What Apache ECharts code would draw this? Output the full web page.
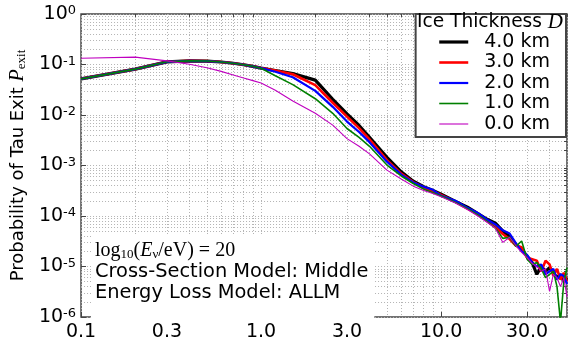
<!DOCTYPE html>
<html>
<head>
<meta charset="utf-8">
<script src="https://cdn.jsdelivr.net/npm/echarts@6/dist/echarts.min.js"></script>
<style>
html, body { margin: 0; padding: 0; background: #fff; }
#chart { width: 568px; height: 342px; }
</style>
</head>
<body>
<div id="chart"></div>
<script>
// tau energy axis (x) and exit probability for each ice thickness
const energies = [0.1, 0.2, 0.3, 0.4, 0.5, 0.6, 0.7, 0.8, 0.9, 1.0,
    1.2, 1.5, 2, 2.5, 3, 3.5, 4, 5, 6, 7, 8, 9, 10,
    12, 14, 16, 18, 20, 22, 24, 26, 28, 30, 32, 34, 36, 38, 40, 42, 44, 46, 48, 50];

const pExit40 = [0.052, 0.081, 0.113, 0.118, 0.117, 0.112, 0.106, 0.099, 0.092, 0.085,
    0.076, 0.066, 0.049, 0.0205, 0.0105, 0.0062, 0.0036, 0.00145, 0.00075, 0.00049, 0.00038, 0.00032, 0.00027,
    1.95e-4, 1.5e-4, 1.12e-4, 8.6e-5, 7.2e-5, 5.0e-5, 3.9e-5, 2.7e-5, 2.2e-5, 1.6e-5,
    1.2e-5, 7.0e-6, 1.0e-5, 8.0e-6, 9.5e-6, 7.5e-6, 6.0e-6, 7.0e-6, 5.0e-6, 6.0e-6];
const pExit30 = [0.052, 0.081, 0.113, 0.118, 0.117, 0.112, 0.106, 0.099, 0.092, 0.085,
    0.076, 0.064, 0.039, 0.0175, 0.0093, 0.0055, 0.0033, 0.00128, 0.00069, 0.00047, 0.00037, 0.00031, 0.00026,
    1.9e-4, 1.4e-4, 1.08e-4, 8.0e-5, 6.0e-5, 4.4e-5, 3.5e-5, 2.6e-5, 2.4e-5, 1.5e-5,
    1.4e-5, 1.3e-5, 8.0e-6, 1.3e-5, 1.1e-5, 6.5e-6, 9.0e-6, 5.5e-6, 7.5e-6, 5.0e-6];
const pExit20 = [0.052, 0.081, 0.113, 0.118, 0.117, 0.112, 0.106, 0.099, 0.092, 0.085,
    0.072, 0.056, 0.030, 0.0145, 0.0074, 0.0046, 0.0029, 0.00119, 0.00066, 0.00046, 0.00038, 0.00033, 0.00025,
    2.0e-4, 1.45e-4, 1.15e-4, 8.5e-5, 6.8e-5, 5.2e-5, 4.5e-5, 2.9e-5, 2.0e-5, 1.7e-5,
    1.2e-5, 1.0e-5, 1.1e-5, 7.0e-6, 8.0e-6, 9.0e-6, 5.5e-6, 7.0e-6, 6.5e-6, 4.5e-6];
const pExit10 = [0.052, 0.081, 0.113, 0.118, 0.117, 0.112, 0.106, 0.099, 0.092, 0.084,
    0.060, 0.040, 0.021, 0.0108, 0.0054, 0.0036, 0.0024, 0.00102, 0.00062, 0.00044, 0.00034, 0.00029, 0.00025,
    1.85e-4, 1.4e-4, 1.05e-4, 7.8e-5, 5.8e-5, 3.6e-5, 3.8e-5, 2.5e-5, 3.2e-5, 1.4e-5,
    1.1e-5, 1.2e-5, 9.0e-6, 6.0e-6, 7.0e-6, 8.0e-6, 4.0e-6, 8.0e-7, 5.0e-6, 9.5e-6];
const pExit00 = [0.133, 0.140, 0.118, 0.101, 0.086, 0.073, 0.062, 0.054, 0.048, 0.043,
    0.031, 0.019, 0.0108, 0.0063, 0.0034, 0.0024, 0.0017, 0.00081, 0.00054, 0.00039, 0.00032, 0.00028, 0.00024,
    1.8e-4, 1.35e-4, 1.0e-4, 7.5e-5, 5.8e-5, 3.0e-5, 3.8e-5, 2.6e-5, 1.9e-5, 1.5e-5,
    1.15e-5, 1.0e-5, 8.0e-6, 9.0e-6, 3.2e-6, 7.0e-6, 6.0e-6, 4.0e-6, 6.0e-6, 2.5e-6];

const thicknessNames = ["4.0 km", "3.0 km", "2.0 km", "1.0 km", "0.0 km"];
const thicknessSeries = [pExit40, pExit30, pExit20, pExit10, pExit00];
const lineColors = ["#000000", "#ff0000", "#0000ff", "#008000", "#bf00bf"];
const lineWidths = [3.2, 2.6, 2.2, 1.6, 1.1];

const xTickValues = [0.1, 0.3, 1, 3, 10, 30];
const xTickLabels = ["0.1", "0.3", "1.0", "3.0", "10.0", "30.0"];
const xMinorValues = [0.2, 0.4, 0.5, 0.6, 0.7, 0.8, 0.9, 2, 4, 5, 6, 7, 8, 9, 20, 40, 50];
const yMinorValues = [];
for (let e = -6; e < 0; e++) {
    for (let m = 2; m <= 9; m++) yMinorValues.push(m * Math.pow(10, e));
}

const FONT = "DejaVu Sans";
const gridLine = { show: true, lineStyle: { color: "#b4b4b4", width: 1, type: [1, 2] } };

const chart = echarts.init(document.getElementById("chart"));

chart.setOption({
    animation: false,
    backgroundColor: "#fff",
    grid: {
        left: 70, right: 1, top: 14, bottom: 25,
        show: true, borderColor: "#444", borderWidth: 1.5, backgroundColor: "transparent",
    },
    title: [
        {
            text: "{n|Ice Thickness }{d|D}",
            left: 417, top: 12, padding: 0,
            textStyle: {
                fontWeight: "normal",
                rich: {
                    n: { fontFamily: FONT, fontSize: 18.6, fontWeight: "normal", color: "#000" },
                    d: { fontFamily: "Liberation Serif", fontStyle: "italic", fontWeight: "normal", fontSize: 21, color: "#000" },
                },
            },
        },
        {
            text: "{m|log}{s|10}{m|(}{i|E}{s|ν}{m|/eV) = 20}\n{t|Cross-Section Model: Middle}\n{t|Energy Loss Model: ALLM}",
            left: 91, top: 236,
            padding: [4, 6, 16, 4],
            backgroundColor: "#fff",
            textStyle: {
                fontWeight: "normal",
                lineHeight: 21,
                rich: {
                    m: { fontFamily: "Liberation Serif", fontSize: 20, fontWeight: "normal", color: "#000", lineHeight: 21 },
                    i: { fontFamily: "Liberation Serif", fontStyle: "italic", fontWeight: "normal", fontSize: 20, color: "#000", lineHeight: 21 },
                    s: { fontFamily: "Liberation Serif", fontSize: 13, fontWeight: "normal", color: "#000", verticalAlign: "bottom", lineHeight: 21 },
                    t: { fontFamily: FONT, fontSize: 19.4, fontWeight: "normal", color: "#000", lineHeight: 21 },
                },
            },
        },
    ],
    legend: {
        orient: "vertical",
        right: 2, top: 14,
        padding: [18, 16, 3, 22],
        itemWidth: 29, itemHeight: 10, itemGap: 0.5,
        backgroundColor: "#fff",
        borderColor: "#444", borderWidth: 2,
        textStyle: { fontFamily: FONT, fontSize: 19, color: "#000", lineHeight: 20, padding: [0, 0, 0, 11] },
        data: thicknessNames.map((name, i) => ({
            name,
            lineStyle: { color: lineColors[i], width: lineWidths[i] },
            itemStyle: { opacity: 0 },
        })),
    },
    xAxis: [
        {
            type: "log", min: 0.1, max: 50,
            axisLine: { show: false },
            axisTick: { show: true, inside: true, length: 5, customValues: xTickValues, lineStyle: { color: "#444" } },
            axisLabel: {
                customValues: xTickValues,
                margin: 6,
                fontFamily: FONT, fontSize: 19, color: "#000",
                formatter: (v) => xTickLabels[xTickValues.findIndex((t) => Math.abs(t - v) < 1e-9 * Math.max(1, t))] ?? String(v),
            },
            splitLine: gridLine,
        },
        {
            type: "log", min: 0.1, max: 50, gridIndex: 0,
            axisLine: { show: false },
            axisTick: { show: true, inside: true, length: 3, customValues: xMinorValues, lineStyle: { color: "#444" } },
            axisLabel: { show: false },
            splitLine: gridLine,
        },
    ],
    yAxis: [
        {
            type: "log", min: 1e-6, max: 1, logBase: 10,
            axisLine: { show: false },
            axisTick: { show: true, inside: true, length: 5, lineStyle: { color: "#444" } },
            axisLabel: {
                margin: 5,
                formatter: (v) => "{b|10}{s|" + Math.round(Math.log10(v)) + "}",
                rich: {
                    b: { fontFamily: FONT, fontSize: 19, color: "#000" },
                    s: { fontFamily: FONT, fontSize: 13, color: "#000", verticalAlign: "top" },
                },
            },
            splitLine: gridLine,
            name: "{a|Probability of Tau Exit }{p|P}{e|exit}",
            nameLocation: "middle",
            nameGap: 52,
            nameTextStyle: {
                rich: {
                    a: { fontFamily: FONT, fontSize: 18, color: "#000" },
                    p: { fontFamily: "Liberation Serif", fontStyle: "italic", fontSize: 20, color: "#000" },
                    e: { fontFamily: "Liberation Serif", fontSize: 13, color: "#000", verticalAlign: "bottom" },
                },
            },
        },
        {
            type: "log", min: 1e-6, max: 1, gridIndex: 0,
            axisLine: { show: false },
            axisTick: { show: true, inside: true, length: 3, customValues: yMinorValues, lineStyle: { color: "#444" } },
            axisLabel: { show: false },
            splitLine: gridLine,
        },
    ],
    series: thicknessSeries.map((values, i) => ({
        name: thicknessNames[i],
        type: "line",
        symbol: "none",
        data: energies.map((e, k) => [e, values[k]]),
        lineStyle: { color: lineColors[i], width: lineWidths[i] },
        itemStyle: { color: lineColors[i] },
        z: 3 + i,
    })),
});
</script>
</body>
</html>
